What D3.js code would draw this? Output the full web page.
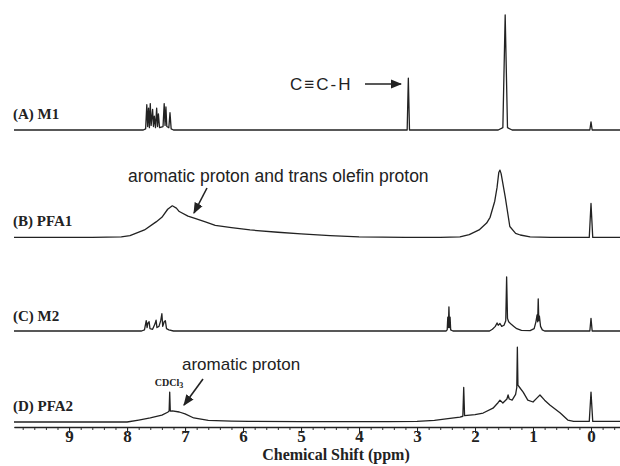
<!DOCTYPE html>
<html>
<head>
<meta charset="utf-8">
<script src="https://cdn.jsdelivr.net/npm/d3@7"></script>
<style>
  body { margin: 0; background: #fff; }
  .lab { font-family: "Liberation Serif", "DejaVu Serif", serif; font-weight: bold; font-size: 15px; fill: #222; }
  .note { font-family: "Liberation Sans", Arial, sans-serif; font-size: 17px; fill: #222; }
  .axis text { font-family: "Liberation Serif", serif; font-weight: bold; font-size: 17px; fill: #222; }
</style>
</head>
<body>
<div id="chart"></div>
<script>
const width = 620, height = 466;

// peak lists: [ppm, intensity] (tallest peak of M1 = 100)
const specA = [
  [9.95,0],[7.72,0],[7.68,1],[7.66,22],[7.645,3],[7.63,19],[7.615,2],[7.6,23],[7.585,4],[7.56,18],[7.545,3],[7.53,12],
  [7.51,2],[7.49,19],[7.475,3],[7.46,14],[7.44,2],[7.38,3],[7.36,23],[7.345,4],[7.33,20],[7.315,3],[7.28,2],[7.26,15],
  [7.24,1],[7.2,0],[3.17,0],[3.15,45],[3.13,0],[1.6,0],[1.52,2],[1.48,100],[1.44,2],[1.36,0],
  [0.02,0],[0,7],[-0.02,0],[-0.5,0]
];
const specB = [
  [9.95,0.5],[8.6,0.5],[8.1,1],[7.95,2],[7.7,7],[7.5,14],[7.4,18],[7.3,25],[7.22,28],[7.15,26],[7.1,23],[6.95,19],
  [6.83,17],[6.65,14],[6.48,11],[6.2,9],[5.88,7],[5.4,5],[5.0,3.5],[4.5,2],[4.0,1],[3.2,0.5],[2.6,0.5],[2.26,1],
  [2.1,3],[1.93,7],[1.8,13],[1.74,18],[1.66,32],[1.62,44],[1.59,57],[1.57,59],[1.55,56],[1.48,36],[1.4,10],[1.3,4],
  [1.22,2.6],[1.05,1],[0.7,0.5],[0.03,0.5],[0,30],[-0.03,0.5],[-0.5,0.5]
];
const specC = [
  [9.95,0],[7.75,0],[7.7,1],[7.67,9],[7.655,3],[7.64,7],[7.62,8],[7.605,2],[7.56,1.5],[7.52,6],[7.5,9.5],[7.485,3],
  [7.45,4],[7.42,9],[7.4,15],[7.385,4],[7.36,8],[7.34,9],[7.32,2],[7.28,1],[7.2,0],
  [2.5,0],[2.48,1],[2.47,12],[2.46,3],[2.45,21],[2.44,3],[2.43,12],[2.42,1],[2.38,0],
  [1.75,0],[1.7,1.5],[1.65,4],[1.62,7],[1.6,5],[1.57,6.5],[1.54,4],[1.5,5],[1.47,9],[1.455,47],[1.44,11],[1.42,8],
  [1.38,6],[1.33,4],[1.28,2],[1.2,0.5],[1.05,0.3],[0.98,2],[0.95,8],[0.93,14],[0.92,8],[0.91,28],[0.9,9],[0.89,13],
  [0.87,4],[0.84,1],[0.8,0],[0.02,0],[0,11],[-0.02,0],[-0.5,0]
];
const specD = [
  [9.95,0],[8.0,0],[7.8,1.7],[7.6,3.5],[7.4,6],[7.3,8.5],[7.275,9.5],[7.265,26],[7.255,9.5],[7.22,9.6],[7.1,8.7],
  [7.0,7],[6.85,3.5],[6.6,1.5],[6.2,0.8],[5.9,0.5],[5.0,0.3],[3.5,0.3],[3.0,0.6],[2.7,1.5],[2.5,2.8],[2.26,4.3],
  [2.21,5],[2.195,30],[2.18,5.5],[2.0,6.5],[1.86,7.8],[1.69,12],[1.6,17],[1.57,19],[1.52,16.5],[1.45,20],[1.43,23.5],
  [1.41,20],[1.36,19],[1.3,24],[1.28,30],[1.27,65],[1.26,32],[1.23,30],[1.17,26],[1.09,19],[1.0,17.4],[0.93,21],
  [0.88,23.5],[0.8,19],[0.71,14.8],[0.53,7.8],[0.4,1.7],[0.3,0.5],[0.03,0.5],[0,26],[-0.03,0.5],[-0.5,0.5]
];

const panelNames = ["(A) M1", "(B) PFA1", "(C) M2", "(D) PFA2"];
const majorTicks = [9, 8, 7, 6, 5, 4, 3, 2, 1, 0];
const minorTicks = d3.range(9.8, -0.5, -0.2).map(v => +v.toFixed(1));

const svg = d3.select("#chart").append("svg")
  .attr("width", width).attr("height", height);

const x = d3.scaleLinear().domain([9.95, -0.5]).range([14, 620]);
const h = d3.scaleLinear().domain([0, 100]).range([0, 115]);

const panels = [
  { data: specA, base: 130, labelY: 119 },
  { data: specB, base: 238, labelY: 226 },
  { data: specC, base: 331, labelY: 321 },
  { data: specD, base: 422, labelY: 411 }
];

panels.forEach((p, i) => {
  const line = d3.line().x(d => x(d[0])).y(d => p.base - h(d[1]));
  svg.append("path").datum(p.data)
    .attr("d", line)
    .attr("fill", "none")
    .attr("stroke", "#222")
    .attr("stroke-width", 1.3)
    .attr("stroke-linejoin", "round");
  svg.append("text").attr("class", "lab")
    .attr("x", 13).attr("y", p.labelY).text(panelNames[i]);
});

// axis
const axisY = 427;
svg.append("g").attr("class", "axis")
  .attr("transform", `translate(0,${axisY})`)
  .call(d3.axisBottom(x).tickValues(minorTicks).tickSize(3).tickSizeOuter(0).tickFormat(""))
  .call(g => g.selectAll("line").attr("stroke", "#333"));
svg.append("g").attr("class", "axis")
  .attr("transform", `translate(0,${axisY})`)
  .call(d3.axisBottom(x).tickValues(majorTicks).tickSize(6).tickSizeOuter(0).tickFormat(d3.format("d")))
  .call(g => g.select(".domain").attr("stroke", "#222").attr("stroke-width", 1.3))
  .call(g => g.selectAll("line").attr("stroke", "#222"))
  .call(g => g.selectAll("text").attr("y", 3));

svg.append("text").attr("class", "lab")
  .attr("x", 336).attr("y", 460).attr("text-anchor", "middle")
  .style("font-size", "16px")
  .text("Chemical Shift (ppm)");

// annotations
const defs = svg.append("defs");
defs.append("marker").attr("id", "ah")
  .attr("viewBox", "0 0 10 10").attr("refX", 9).attr("refY", 5)
  .attr("markerWidth", 7).attr("markerHeight", 7).attr("orient", "auto")
  .append("path").attr("d", "M0,1 L10,5 L0,9 Z").attr("fill", "#222");

function arrow(x1, y1, x2, y2) {
  svg.append("line")
    .attr("x1", x1).attr("y1", y1).attr("x2", x2).attr("y2", y2)
    .attr("stroke", "#222").attr("stroke-width", 1.6)
    .attr("marker-end", "url(#ah)");
}

svg.append("text").attr("class", "note").attr("x", 290).attr("y", 90)
  .style("letter-spacing", "2px").text("C\u2261C-H");
arrow(365, 84, 401, 84);

svg.append("text").attr("class", "note")
  .attr("x", 128).attr("y", 182).style("font-size", "17.5px")
  .text("aromatic proton and trans olefin proton");
arrow(207, 188, 194, 213);

svg.append("text").attr("class", "note")
  .attr("x", 182).attr("y", 370).text("aromatic proton");
arrow(203, 379, 184, 405);

const cd = svg.append("text").attr("class", "lab")
  .attr("x", 169).attr("y", 386).attr("text-anchor", "middle")
  .style("font-size", "10px");
cd.append("tspan").text("CDCl");
cd.append("tspan").attr("dy", 2).style("font-size", "8px").text("3");
</script>
</body>
</html>
